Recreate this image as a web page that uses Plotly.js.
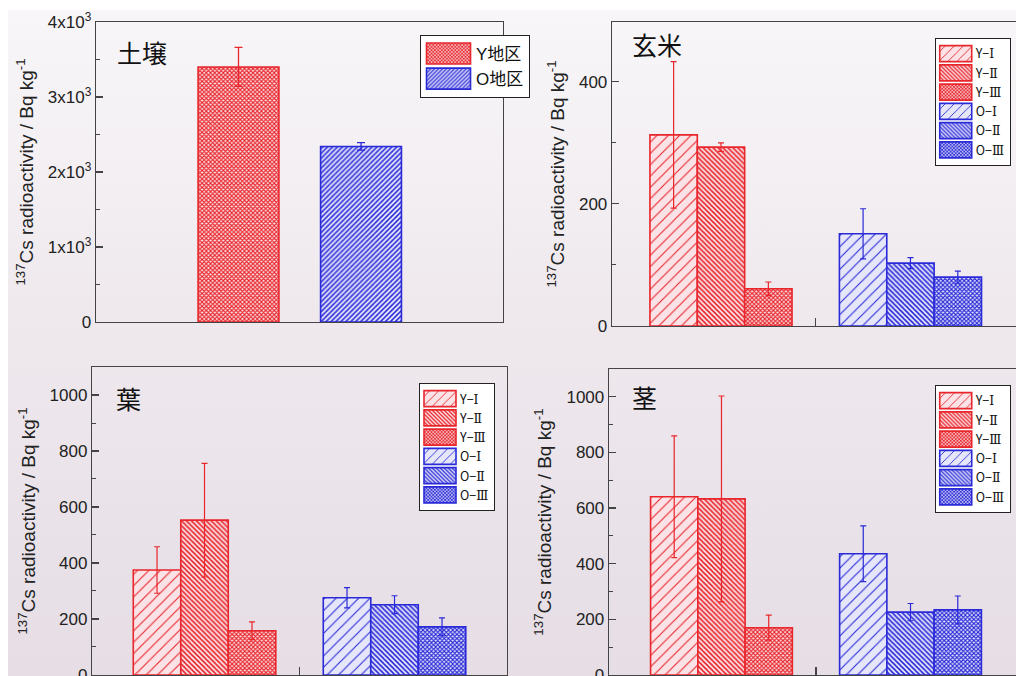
<!DOCTYPE html>
<html>
<head>
<meta charset="utf-8">
<script src="https://cdn.plot.ly/plotly-3.0.1.min.js"></script>
<style>
  html, body { margin:0; padding:0; background:#ffffff; }
  #bg { position:absolute; left:8px; top:10px; width:1008px; height:666px;
        background: linear-gradient(to bottom, #f8f6f8 0%, #efe9ee 45%, #e6dde5 100%); }
  #chart { position:absolute; left:0; top:0; width:1016px; height:676px; }
</style>
</head>
<body>
<div id="bg"></div>
<div id="chart"></div>
<script>
// ---------------- data ----------------
const soilCategories = ['Y地区', 'O地区'];
const soilValues = [3400, 2340];
const soilErrors = [260, 50];

const seriesNames = ['Y−Ⅰ', 'Y−Ⅱ', 'Y−Ⅲ', 'O−Ⅰ', 'O−Ⅱ', 'O−Ⅲ'];
const seriesGroup = [0, 0, 0, 1, 1, 1];   // 0 = Y地区, 1 = O地区
const seriesLevel = [0, 1, 2, 0, 1, 2];

const riceValues = [313, 293, 61, 151, 103, 80];
const riceErrors = [120, 7, 11, 41, 9, 10];

const leafValues = [375, 553, 158, 276, 251, 172];
const leafErrors = [83, 203, 32, 36, 32, 32];

const stemValues = [641, 633, 170, 436, 226, 234];
const stemErrors = [219, 370, 45, 100, 31, 50];

const soilTicks = [0, 1000, 2000, 3000, 4000];
const soilTickText = ['0', '1x10<sup>3</sup>', '2x10<sup>3</sup>', '3x10<sup>3</sup>', '4x10<sup>3</sup>'];

// ---------------- styles ----------------
const RED = '#e8262c', BLUE = '#2a2ad8';
const groupColor = [RED, BLUE];
const groupBg = ['#fae2e6', '#e6e6fa'];
const levelPattern = [
  {shape: '/', size: 8, solidity: 0.14},
  {shape: '\\', size: 3.5, solidity: 0.45},
  {shape: 'x', size: 3, solidity: 0.6}
];
const AX = '#444444';
const FONT = 'Liberation Sans, Arial, sans-serif';
const CJK = 'Noto Sans CJK JP, sans-serif';
const BAR_W = 0.25;

function legendLabel(name) {
  // roman numerals drawn in a serif face as in the original figure
  const parts = name.split('−');
  return parts[0] + '−<span style="font-family:DejaVu Serif">' + parts[1] + '</span>';
}

const traces = [];

// soil panel
soilCategories.forEach((name, i) => {
  traces.push({
    type: 'bar', x: [i], y: [soilValues[i]], name: name,
    xaxis: 'x', yaxis: 'y', legend: 'legend',
    width: 0.66, offset: -0.33,
    marker: {
      color: groupBg[i],
      line: {color: groupColor[i], width: 1.6},
      pattern: i === 0
        ? {shape: 'x', size: 3, solidity: 0.6, fgcolor: groupColor[i], bgcolor: groupBg[i], fillmode: 'replace'}
        : {shape: '/', size: 3.5, solidity: 0.45, fgcolor: groupColor[i], bgcolor: groupBg[i], fillmode: 'replace'}
    },
    error_y: {type: 'data', array: [soilErrors[i]], visible: true, color: groupColor[i], thickness: 1.3, width: 4},
    hoverinfo: 'skip'
  });
});

function addPanel(values, errors, xa, ya, leg) {
  seriesNames.forEach((name, k) => {
    const g = seriesGroup[k], l = seriesLevel[k];
    const p = levelPattern[l];
    traces.push({
      type: 'bar', x: [g], y: [values[k]], name: legendLabel(name),
      xaxis: xa, yaxis: ya, legend: leg,
      width: BAR_W, offset: -1.5 * BAR_W + l * BAR_W,
      marker: {
        color: groupBg[g],
        line: {color: groupColor[g], width: 1.6},
        pattern: {shape: p.shape, size: p.size, solidity: p.solidity,
                  fgcolor: groupColor[g], bgcolor: groupBg[g], fillmode: 'replace'}
      },
      error_y: {type: 'data', array: [errors[k]], visible: true, color: groupColor[g], thickness: 1.2, width: 3},
      hoverinfo: 'skip'
    });
  });
}
addPanel(riceValues, riceErrors, 'x2', 'y2', 'legend2');
addPanel(leafValues, leafErrors, 'x3', 'y3', 'legend3');
addPanel(stemValues, stemErrors, 'x4', 'y4', 'legend4');

const yTitle = '<sup>137</sup>Cs radioactivity / Bq kg<sup>-1</sup>';

function xAxis(domain, range, anchor, midTick) {
  return {
    domain: domain, range: range, anchor: anchor, automargin: false,
    showline: true, linecolor: AX, linewidth: 1.3, mirror: true,
    showgrid: false, zeroline: false, fixedrange: true,
    tickmode: 'array', tickvals: midTick ? [0.5] : [],
    ticks: 'inside', ticklen: 8, tickcolor: AX, tickwidth: 1.2,
    showticklabels: false
  };
}
function yAxis(domain, range, anchor, dtick, minor, mirror) {
  return {
    domain: domain, range: range, anchor: anchor, automargin: false,
    showline: true, linecolor: AX, linewidth: 1.3, mirror: mirror,
    showgrid: false, zeroline: false, fixedrange: true,
    dtick: dtick, ticks: 'inside', ticklen: 7, tickcolor: AX, tickwidth: 1.2,
    minor: {dtick: minor, ticks: 'inside', ticklen: 4, tickcolor: AX, tickwidth: 1},
    ticklabeloverflow: 'allow',
    tickfont: {family: FONT, size: 17, color: '#222'},
    title: {text: yTitle, font: {family: FONT, size: 19, color: '#222'}, standoff: 9}
  };
}

function legendBox(x, y, itemwidth, font) {
  return {x: x, y: y, xanchor: 'left', yanchor: 'top', bgcolor: '#ffffff',
          bordercolor: '#222', borderwidth: 1, itemwidth: itemwidth, tracegroupgap: 0,
          font: font};
}

const panelLabelFont = {family: CJK, size: 25, color: '#111'};

const layout = {
  width: 1016, height: 676,
  margin: {l: 0, r: 0, t: 0, b: 0},
  paper_bgcolor: 'rgba(0,0,0,0)', plot_bgcolor: 'rgba(0,0,0,0)',
  barmode: 'overlay',
  font: {family: FONT, color: '#222'},
  xaxis: xAxis([0.0945, 0.4951], [-1.163, 2.159], 'y', false),
  yaxis: Object.assign(yAxis([0.5237, 0.9675], [0, 4000], 'x', 1000, 500, true),
          {tickmode: 'array', tickvals: soilTicks, ticktext: soilTickText,
           minor: {tickvals: [500, 1500, 2500, 3500], ticks: 'inside', ticklen: 4, tickcolor: AX, tickwidth: 1}}),
  xaxis2: xAxis([0.6024, 1.0], [-0.575, 1.557], 'y2', true),
  yaxis2: yAxis([0.5178, 0.9675], [0, 498], 'x2', 200, 100, false),
  xaxis3: xAxis([0.0906, 0.4990], [-0.592, 1.592], 'y3', true),
  yaxis3: yAxis([0.0015, 0.4571], [0, 1100], 'x3', 200, 100, true),
  xaxis4: xAxis([0.5994, 1.0], [-0.595, 1.558], 'y4', true),
  yaxis4: yAxis([0.0015, 0.4541], [0, 1100], 'x4', 200, 100, false),
  legend: legendBox(0.4134, 0.9482, 45, {family: FONT + ', ' + CJK, size: 17, color: '#111'}),
  legend2: legendBox(0.920, 0.9438, 30, {family: CJK, size: 12.5, color: '#111'}),
  legend3: legendBox(0.4124, 0.4334, 30, {family: CJK, size: 12.5, color: '#111'}),
  legend4: legendBox(0.920, 0.4305, 30, {family: CJK, size: 12.5, color: '#111'}),
  annotations: [
    {text: '土壌', xref: 'paper', yref: 'paper', x: 0.1398, y: 0.923, xanchor: 'center', yanchor: 'middle',
     showarrow: false, font: panelLabelFont},
    {text: '玄米', xref: 'paper', yref: 'paper', x: 0.6467, y: 0.9349, xanchor: 'center', yanchor: 'middle',
     showarrow: false, font: panelLabelFont},
    {text: '葉', xref: 'paper', yref: 'paper', x: 0.126, y: 0.4112, xanchor: 'center', yanchor: 'middle',
     showarrow: false, font: panelLabelFont},
    {text: '茎', xref: 'paper', yref: 'paper', x: 0.6339, y: 0.4127, xanchor: 'center', yanchor: 'middle',
     showarrow: false, font: panelLabelFont}
  ],
  showlegend: true
};

function enlargeSwatches(gd) {
  const sizes = {legend: [44, 21], legend2: [32, 16], legend3: [32, 16], legend4: [32, 16]};
  Object.keys(sizes).forEach(id => {
    const [w, h] = sizes[id];
    gd.querySelectorAll('g.' + id + ' g.legendpoints path').forEach(p => {
      p.setAttribute('d', `M${w/2},${h/2}H${-w/2}V${-h/2}H${w/2}Z`);
    });
  });
}

Plotly.newPlot('chart', traces, layout, {displayModeBar: false, staticPlot: true}).then(gd => {
  enlargeSwatches(gd);
  gd.on('plotly_afterplot', () => enlargeSwatches(gd));
  setTimeout(() => enlargeSwatches(gd), 50);
  setTimeout(() => enlargeSwatches(gd), 400);
});
</script>
</body>
</html>
